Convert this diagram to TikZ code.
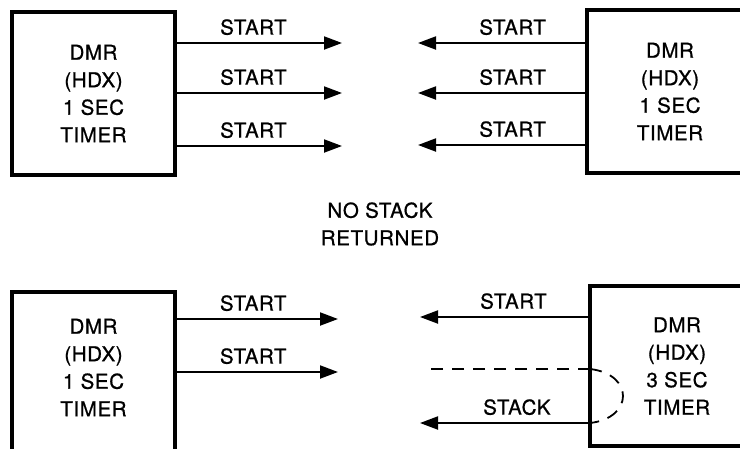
\documentclass[tikz,border=0pt]{standalone}
\usepackage{fontspec}
\setmainfont{TeX Gyre Heros}[FakeBold=0.8,LetterSpace=3]
\usetikzlibrary{arrows.meta}
\newcommand\diafont{\fontsize{20.5}{27.5}\selectfont}
\begin{document}
\begin{tikzpicture}[x=1pt,y=-1pt,
  box/.style={draw, line width=3.8pt, inner sep=0pt, outer sep=0pt, align=center, font=\diafont},
  boxtext/.style={inner sep=0pt, align=center, font=\diafont},
  arr/.style={line width=2pt, -{Triangle[length=18pt,width=13pt]}},
  dline/.style={line width=1.8pt, dash pattern=on 12pt off 9pt},
  lab/.style={font=\diafont, inner sep=0pt, above=7pt}]
\useasboundingbox (0,0) rectangle (740,448);
\clip (0,0) rectangle (740,448);
\fill[white] (0,0) rectangle (740,448);

% top row
\node[box, minimum width=163pt, minimum height=163pt] (tl) at (93.5,93.5) {DMR\\(HDX)\\1 SEC\\TIMER};
\node[box, minimum width=166pt, minimum height=163pt] (tr) at (670,91.5) {DMR\\(HDX)\\1 SEC\\TIMER};

\coordinate (a1) at (342,43);
\coordinate (a2) at (342,93);
\coordinate (a3) at (342,146);
\draw[arr] (tl.east |- a1) -- node[lab, pos=0.47] (la1) {START} (a1);
\draw[arr] (tl.east |- a2) -- node[lab, pos=0.47] (la2) {START} (a2);
\draw[arr] (tl.east |- a3) -- node[lab, pos=0.47] (la3) {START} (a3);

\coordinate (b1) at (418,43);
\coordinate (b2) at (418,93);
\coordinate (b3) at (418,145);
\draw[arr] (tr.west |- b1) -- node[lab, pos=0.44] (lb1) {START} (b1);
\draw[arr] (tr.west |- b2) -- node[lab, pos=0.44] (lb2) {START} (b2);
\draw[arr] (tr.west |- b3) -- node[lab, pos=0.44] (lb3) {START} (b3);

% middle text
\node[boxtext] (mid) at (380,224) {NO STACK\\RETURNED};

% bottom row
\node[box, minimum width=163pt, minimum height=188pt] (bl) at (93.5,386) {};
\node[boxtext] (blt) at (93.5,367.5) {DMR\\(HDX)\\1 SEC\\TIMER};
\node[box, minimum width=174pt, minimum height=160pt] (br) at (677,366) {DMR\\(HDX)\\3 SEC\\TIMER};

\coordinate (c1) at (338,319);
\coordinate (c2) at (338,372);
\draw[arr] (bl.east |- c1) -- node[lab, pos=0.48] (lc1) {START} (c1);
\draw[arr] (bl.east |- c2) -- node[lab, pos=0.48] (lc2) {START} (c2);

\coordinate (d1) at (420,317);
\coordinate (d2) at (423,369);
\coordinate (d3) at (420,423);
\draw[arr] (br.west |- d1) -- node[lab, pos=0.45] (ld1) {START} (d1);
\draw[dline] (br.west |- d2) -- (d2);
\draw[dline] (br.west |- d2) .. controls (634,374) and (634,418) .. (br.west |- d3);
\draw[arr] (br.west |- d3) -- node[lab, pos=0.43] (ld3) {STACK} (d3);
\end{tikzpicture}
\end{document}
